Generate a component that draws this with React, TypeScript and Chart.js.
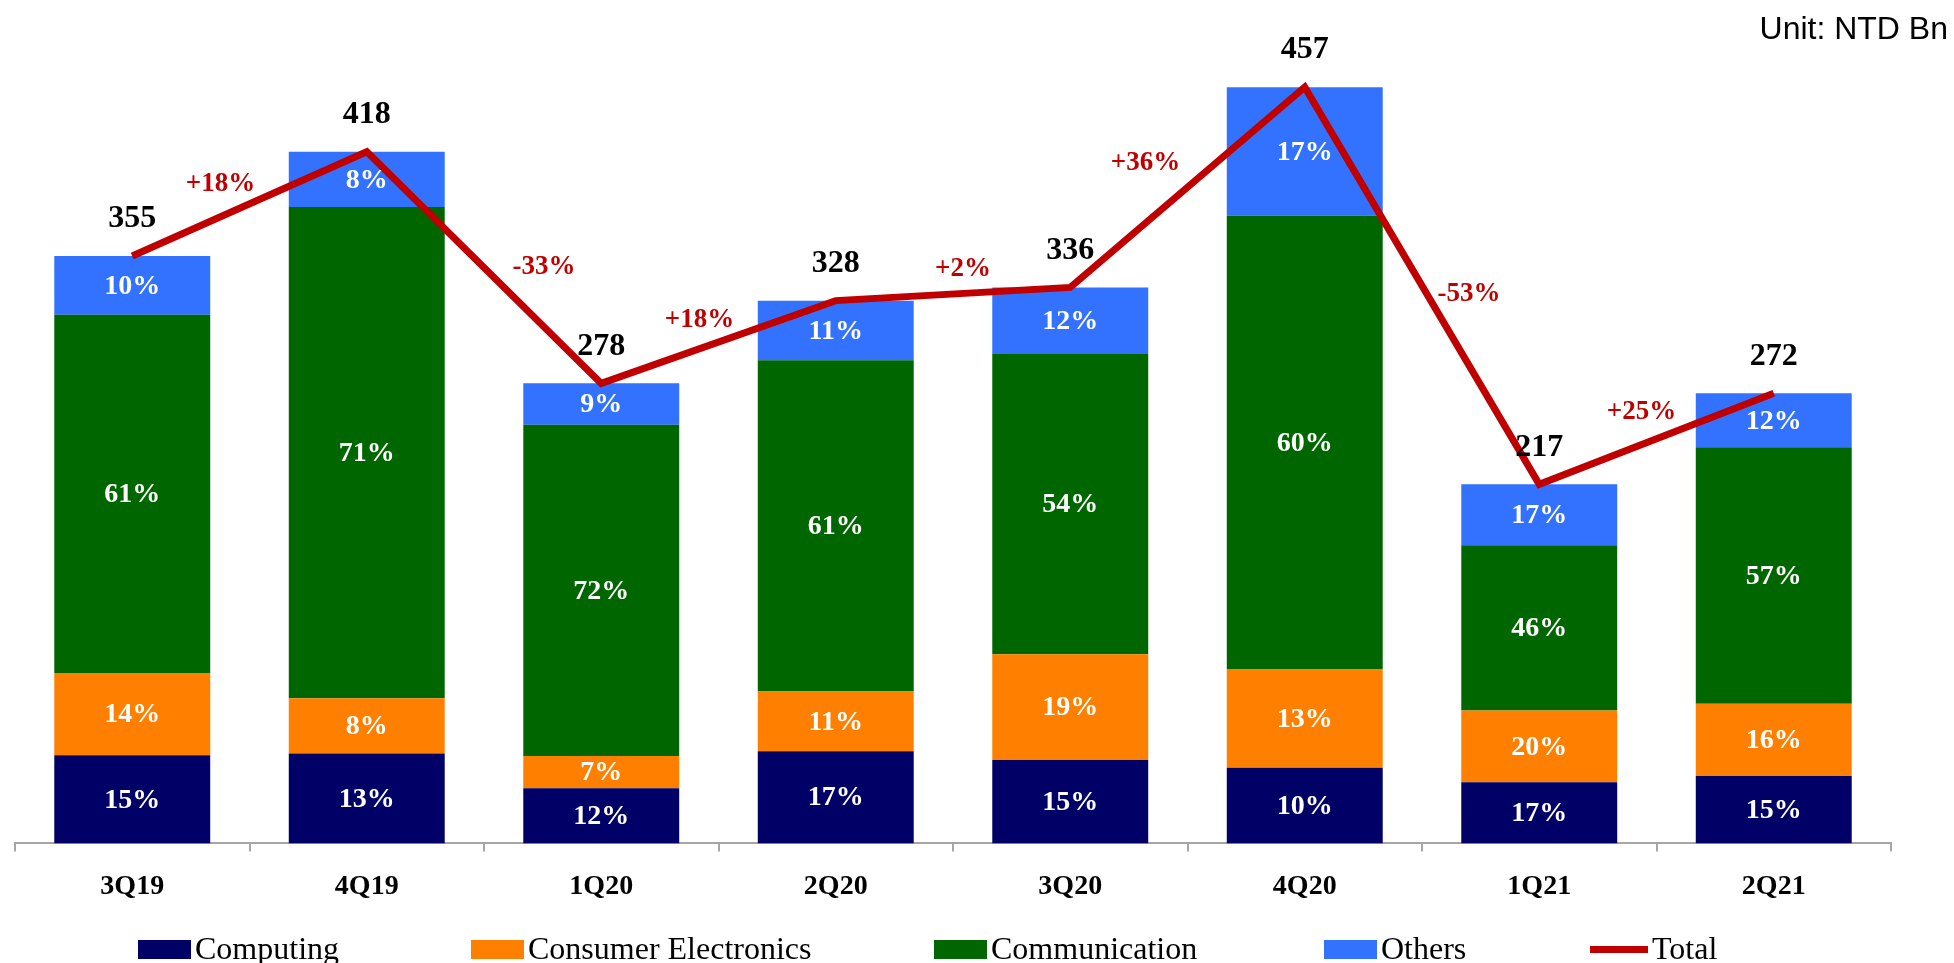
import React, { useEffect, useRef } from 'react';
import { Chart, registerables } from 'chart.js';

Chart.register(...registerables);

const categories = ['3Q19', '4Q19', '1Q20', '2Q20', '3Q20', '4Q20', '1Q21', '2Q21'];
const totals = [355, 418, 278, 328, 336, 457, 217, 272];
const computingPct = [15, 13, 12, 17, 15, 10, 17, 15];
const consumerPct = [14, 8, 7, 11, 19, 13, 20, 16];
const communicationPct = [61, 71, 72, 61, 54, 60, 46, 57];
const othersPct = [10, 8, 9, 11, 12, 17, 17, 12];
const growthLabels = ['+18%', '-33%', '+18%', '+2%', '+36%', '-53%', '+25%'];

const seriesNames = ['Computing', 'Consumer Electronics', 'Communication', 'Others'];
const seriesPcts = [computingPct, consumerPct, communicationPct, othersPct];
const seriesColors = ['#000066', '#FF8000', '#006600', '#3371FF'];
const lineColor = '#C00000';

const SERIF = "'Liberation Serif', 'Times New Roman', serif";
const SANS = "'Liberation Sans', Arial, sans-serif";

// offsets of growth labels relative to segment midpoints
const growthOffsets: [number, number][] = [
  [-29, -20], [60, 0], [-19, -22], [10, -25], [-42, -24], [47, 8], [-15, -27],
];

const labelsPlugin = {
  id: 'customLabels',
  afterDatasetsDraw(chart: any) {
    const ctx = chart.ctx;
    ctx.save();
    // percentage labels inside bars
    ctx.font = `bold 28px ${SERIF}`;
    ctx.fillStyle = '#FFFFFF';
    ctx.textAlign = 'center';
    ctx.textBaseline = 'middle';
    for (let d = 0; d < 4; d++) {
      const meta = chart.getDatasetMeta(d);
      meta.data.forEach((el: any, i: number) => {
        const p = el.getProps(['x', 'y', 'base'], true);
        ctx.fillText(`${seriesPcts[d][i]}%`, p.x, (p.y + p.base) / 2 + 1);
      });
    }
    // total labels
    const lineMeta = chart.getDatasetMeta(4);
    ctx.font = `bold 32px ${SERIF}`;
    ctx.fillStyle = '#000000';
    lineMeta.data.forEach((el: any, i: number) => {
      ctx.fillText(String(totals[i]), el.x, el.y - 37);
    });
    // growth labels
    ctx.font = `bold 27px ${SERIF}`;
    ctx.fillStyle = lineColor;
    for (let i = 0; i < growthLabels.length; i++) {
      const a = lineMeta.data[i];
      const b = lineMeta.data[i + 1];
      const mx = (a.x + b.x) / 2 + growthOffsets[i][0];
      const my = (a.y + b.y) / 2 + growthOffsets[i][1];
      ctx.fillText(growthLabels[i], mx, my);
    }
    // unit
    ctx.font = `32px ${SANS}`;
    ctx.fillStyle = '#000000';
    ctx.textAlign = 'right';
    ctx.fillText('Unit: NTD Bn', 1948, 30);
    ctx.restore();
  },
  afterDraw(chart: any) {
    const ctx = chart.ctx;
    ctx.save();
    const boxX = [138, 471, 934, 1324, 1590];
    ctx.font = `32px ${SERIF}`;
    ctx.textAlign = 'left';
    ctx.textBaseline = 'alphabetic';
    const names = [...seriesNames, 'Total'];
    names.forEach((name, i) => {
      const x = boxX[i];
      if (i < 4) {
        ctx.fillStyle = seriesColors[i];
        ctx.fillRect(x, 940, 53, 19);
      } else {
        ctx.fillStyle = lineColor;
        ctx.fillRect(x, 946, 58, 7);
      }
      ctx.fillStyle = '#000000';
      ctx.fillText(name, x + (i < 4 ? 57 : 62), 959);
    });
    ctx.restore();
  },
};

export default function App() {
  const ref = useRef<HTMLCanvasElement>(null);
  useEffect(() => {
    if (!ref.current) return;
    const barSets = seriesNames.map((name, d) => ({
      type: 'bar' as const,
      label: name,
      data: totals.map((t, i) => (t * seriesPcts[d][i]) / 100),
      backgroundColor: seriesColors[d],
      borderWidth: 0,
      stack: 'bars',
      order: 1,
      barPercentage: 0.665,
      categoryPercentage: 1,
    }));
    const chart = new Chart(ref.current, {
      type: 'bar',
      data: {
        labels: categories,
        datasets: [
          ...barSets,
          {
            type: 'line' as const,
            label: 'Total',
            data: totals,
            borderColor: lineColor,
            backgroundColor: lineColor,
            borderWidth: 7,
            pointRadius: 0,
            tension: 0,
            stack: 'total',
            order: 0,
          } as any,
        ],
      },
      options: {
        responsive: false,
        animation: false,
        layout: { padding: { left: 15, right: 63, top: 16, bottom: 40 } },
        plugins: { legend: { display: false }, tooltip: { enabled: false } },
        scales: {
          x: {
            stacked: true,
            grid: {
              display: true,
              drawOnChartArea: false,
              drawTicks: true,
              tickLength: 8,
              color: '#A6A6A6',
              lineWidth: 2,
              offset: true,
            },
            border: { display: true, color: '#A6A6A6', width: 2 },
            ticks: {
              color: '#000000',
              padding: 19,
              font: { family: SERIF, size: 28, weight: 'bold', lineHeight: 1.2 },
            },
          },
          y: {
            stacked: true,
            display: false,
            min: 0,
            max: 500,
          },
        },
      },
      plugins: [labelsPlugin],
    });
    return () => chart.destroy();
  }, []);
  return (
    <div style={{ position: 'absolute', left: 0, top: 0, width: 1954, height: 963, background: '#fff' }}>
      <canvas ref={ref} width={1954} height={963} />
    </div>
  );
}
